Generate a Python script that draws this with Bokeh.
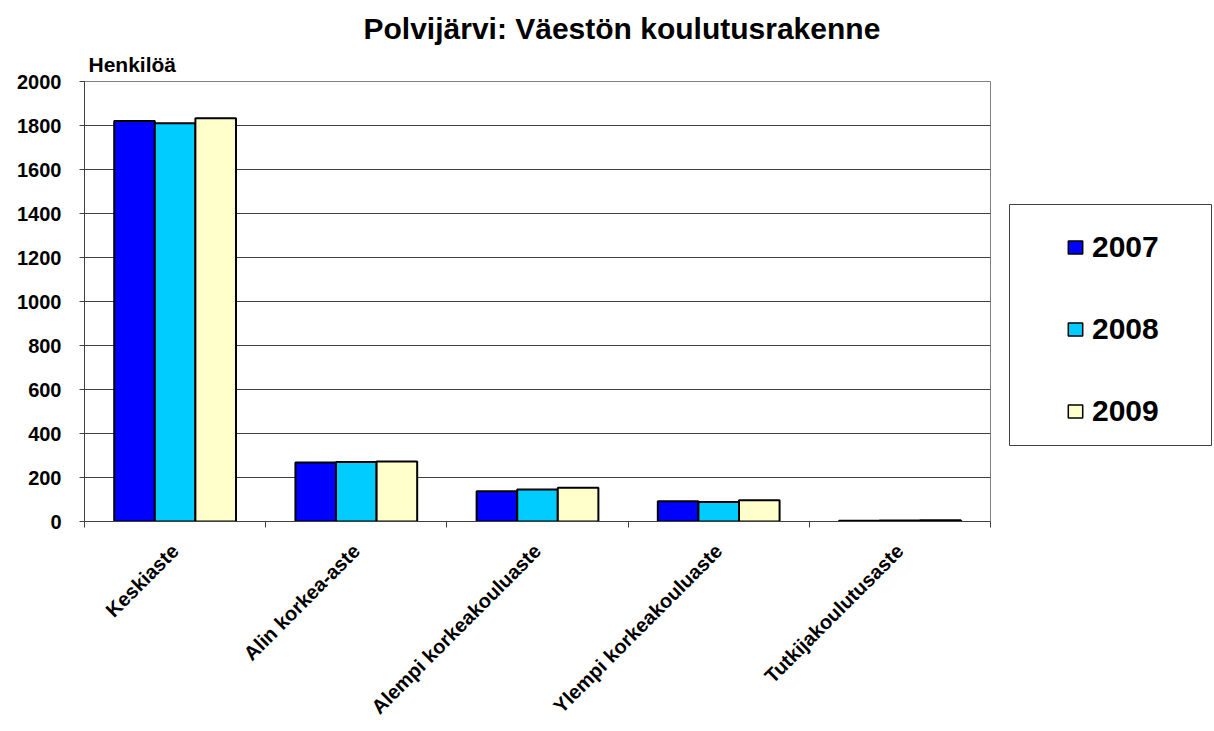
import math
from bokeh.plotting import figure
from bokeh.layouts import row
from bokeh.models import (ColumnDataSource, FixedTicker, Legend, LegendItem,
                          Title, Range1d)
from bokeh.embed import file_html
from bokeh.resources import INLINE

title_text = "Polvijärvi: Väestön koulutusrakenne"
y_title = "Henkilöä"
categories = ["Keskiaste", "Alin korkea-aste", "Alempi korkeakouluaste",
              "Ylempi korkeakouluaste", "Tutkijakoulutusaste"]
years = ["2007", "2008", "2009"]
v2007 = [1820, 268, 138, 92, 3]
v2008 = [1810, 270, 145, 89, 4]
v2009 = [1833, 273, 153, 97, 6]
colors = ["#0000FF", "#00CCFF", "#FFFFCC"]
y_ticks = [0, 200, 400, 600, 800, 1000, 1200, 1400, 1600, 1800, 2000]

FONT = "Liberation Sans"
H = 728

p = figure(width=992, height=H, x_range=Range1d(0, len(categories)),
           y_range=Range1d(0, 2000), output_backend="svg",
           toolbar_location=None, min_border_left=84, min_border_top=81,
           min_border_right=2, min_border_bottom=H - 521)
p.frame_align = False
p.background_fill_color = "white"
p.border_fill_color = "white"
p.outline_line_color = "#808080"
p.outline_line_width = 1

bar_w = 0.224
centers = [i + 0.5 for i in range(len(categories))]
series = [v2007, v2008, v2009]
for k, vals in enumerate(series):
    src = ColumnDataSource(dict(x=[c + (k - 1) * bar_w for c in centers], top=vals))
    p.vbar(x="x", top="top", width=bar_w, bottom=0, source=src,
           fill_color=colors[k], line_color="black", line_width=2)

# axes
p.xaxis.ticker = FixedTicker(ticks=centers, minor_ticks=list(range(len(categories) + 1)))
p.xaxis.major_label_overrides = {c: lab for c, lab in zip(centers, categories)}
p.xaxis.major_label_orientation = math.pi / 4
p.xaxis.major_tick_line_color = None
p.xaxis.major_tick_out = 0
p.xaxis.major_tick_in = 0
p.xaxis.minor_tick_out = 6
p.xaxis.minor_tick_in = 0
p.xaxis.minor_tick_line_color = "#404040"
p.xaxis.axis_line_color = "#404040"
p.xaxis.major_label_text_font = FONT
p.xaxis.major_label_text_font_style = "bold"
p.xaxis.major_label_text_font_size = "20px"
p.xaxis.major_label_text_color = "black"
p.xaxis.major_label_standoff = 20

p.yaxis.ticker = FixedTicker(ticks=y_ticks)
p.yaxis.major_tick_out = 5
p.yaxis.major_tick_in = 0
p.yaxis.minor_tick_line_color = None
p.yaxis.major_tick_line_color = "#404040"
p.yaxis.axis_line_color = "#404040"
p.yaxis.major_label_text_font = FONT
p.yaxis.major_label_text_font_style = "bold"
p.yaxis.major_label_text_font_size = "20px"
p.yaxis.major_label_text_color = "black"
p.yaxis.major_label_standoff = 18

p.xgrid.grid_line_color = None
p.ygrid.ticker = FixedTicker(ticks=y_ticks)
p.ygrid.grid_line_color = "#404040"
p.ygrid.grid_line_width = 1

# y title (inner) and main title (outer)
p.add_layout(Title(text=y_title, align="left", offset=4, standoff=12,
                   text_font=FONT, text_font_style="bold", text_font_size="21px",
                   text_color="black"), "above")
p.add_layout(Title(text=title_text, align="left", offset=279, standoff=0,
                   text_font=FONT, text_font_style="bold", text_font_size="30px",
                   text_color="black"), "above")

# legend panel: a second figure whose frame is the legend box
lg = figure(width=220, height=H, x_range=Range1d(0, 1), y_range=Range1d(0, 1),
            output_backend="svg", toolbar_location=None,
            x_axis_location=None, y_axis_location=None,
            min_border_left=17, min_border_right=0, min_border_top=204,
            min_border_bottom=H - 445)
lg.frame_align = False
lg.grid.visible = False
lg.outline_line_color = "#404040"
lg.outline_line_width = 1
lg.background_fill_color = "white"
lg.border_fill_color = "white"
items = []
for k, yr in enumerate(years):
    dummy = ColumnDataSource(dict(x=[float("nan")], top=[float("nan")]))
    r = lg.vbar(x="x", top="top", width=0.1, source=dummy, fill_color=colors[k],
                line_color="black", line_width=1.5)
    items.append(LegendItem(label=yr, renderers=[r]))
legend = Legend(items=items, location=(57, 17), margin=0, padding=10, spacing=48,
                glyph_width=18, glyph_height=16, label_standoff=8,
                label_text_font=FONT, label_text_font_style="bold",
                label_text_font_size="30px", label_text_color="black",
                border_line_color=None, background_fill_alpha=0)
lg.add_layout(legend, "center")

layout = row(p, lg, spacing=0)
open("out.html", "w").write(file_html(layout, INLINE))
